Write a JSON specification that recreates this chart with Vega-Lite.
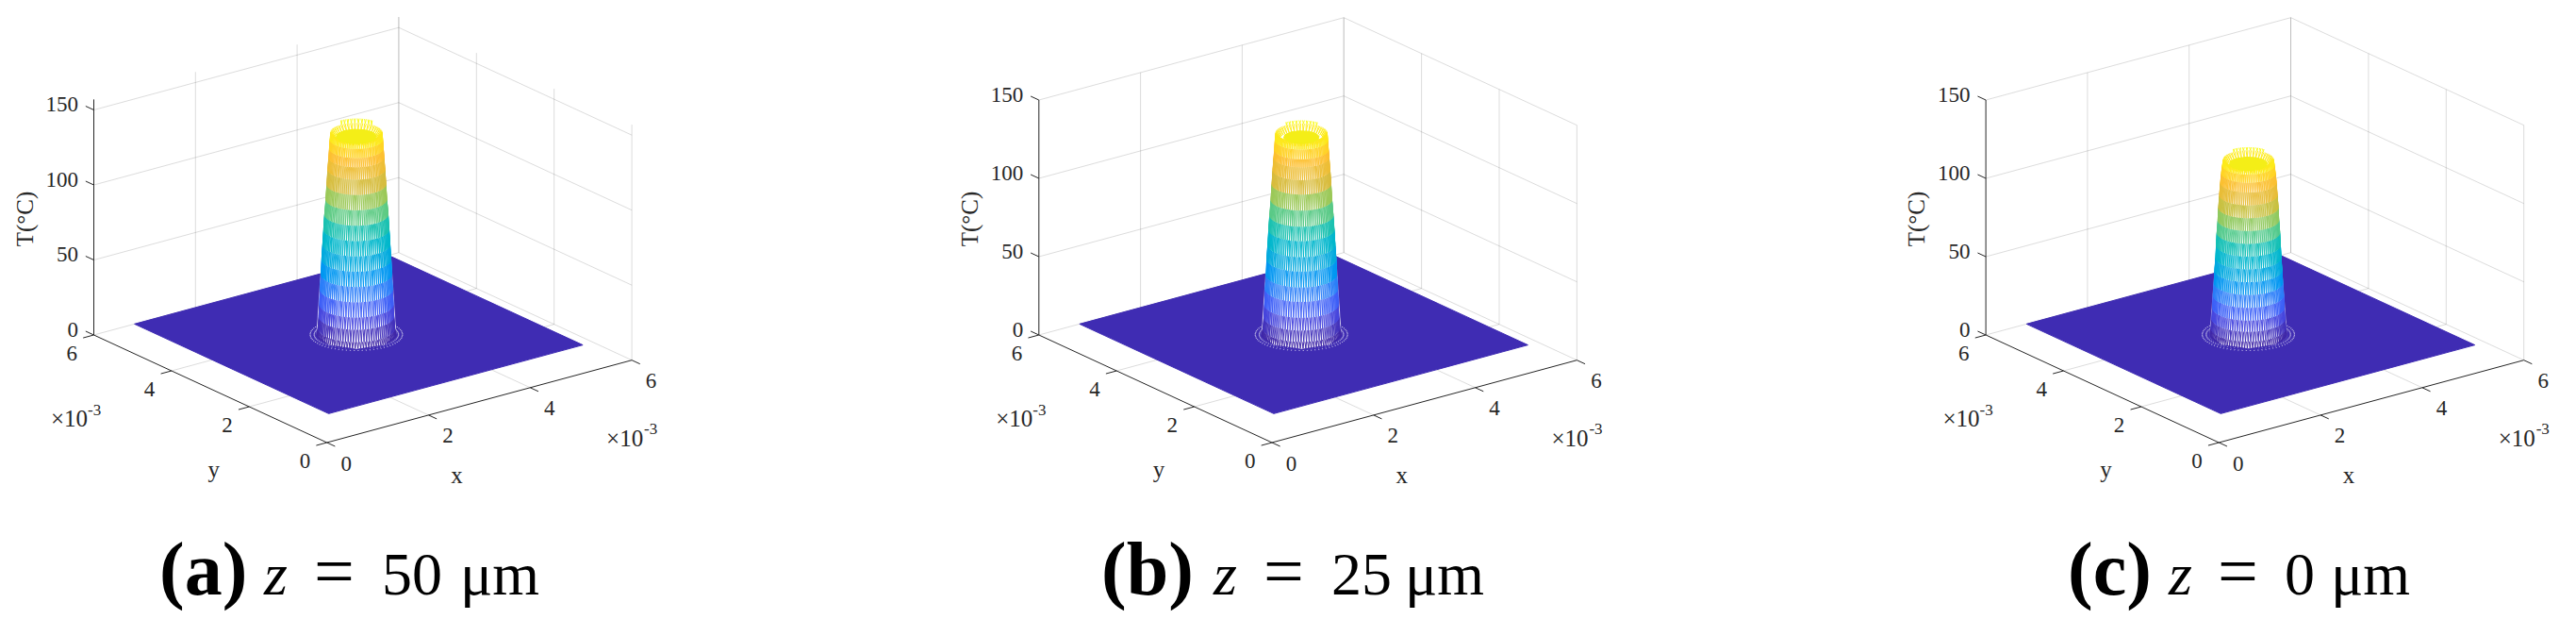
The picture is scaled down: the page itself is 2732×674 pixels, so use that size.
{
"$schema":"https://vega.github.io/schema/vega-lite/v6.json",
"width":2732,"height":674,"padding":0,
"autosize":{"type":"fit","contains":"padding"},
"background":"white",
"config":{"view":{"stroke":null}},
"datasets":{
"grid":[
{"panel":["a","b","c"],"x":0,"y":6,"T":0,"x2":6,"y2":6,"T2":[0,0,0]},
{"panel":["a","b","c"],"x":0,"y":6,"T":50,"x2":6,"y2":6,"T2":[50,50,50]},
{"panel":["a","b","c"],"x":0,"y":6,"T":100,"x2":6,"y2":6,"T2":[100,100,100]},
{"panel":["a","b","c"],"x":0,"y":6,"T":150,"x2":6,"y2":6,"T2":[150,150,150]},
{"panel":["a","b","c"],"x":6,"y":6,"T":0,"x2":6,"y2":0,"T2":[0,0,0]},
{"panel":["a","b","c"],"x":6,"y":6,"T":50,"x2":6,"y2":0,"T2":[50,50,50]},
{"panel":["a","b","c"],"x":6,"y":6,"T":100,"x2":6,"y2":0,"T2":[100,100,100]},
{"panel":["a","b","c"],"x":6,"y":6,"T":150,"x2":6,"y2":0,"T2":[150,150,150]},
{"panel":["a","b","c"],"x":0,"y":2,"T":0,"x2":6,"y2":2,"T2":[0,0,0]},
{"panel":["a","b","c"],"x":0,"y":4,"T":0,"x2":6,"y2":4,"T2":[0,0,0]},
{"panel":["a","b","c"],"x":2,"y":0,"T":0,"x2":2,"y2":6,"T2":[0,0,0]},
{"panel":["a","b","c"],"x":4,"y":0,"T":0,"x2":4,"y2":6,"T2":[0,0,0]},
{"panel":["a","b","c"],"x":2,"y":6,"T":0,"x2":2,"y2":6,"T2":[157,150,150]},
{"panel":["a","b","c"],"x":4,"y":6,"T":0,"x2":4,"y2":6,"T2":[157,150,150]},
{"panel":["a","b","c"],"x":6,"y":6,"T":0,"x2":6,"y2":6,"T2":[157,150,150]},
{"panel":["a","b","c"],"x":6,"y":6,"T":0,"x2":6,"y2":6,"T2":[157,150,150]},
{"panel":["a","b","c"],"x":6,"y":4,"T":0,"x2":6,"y2":4,"T2":[157,150,150]},
{"panel":["a","b","c"],"x":6,"y":2,"T":0,"x2":6,"y2":2,"T2":[157,150,150]},
{"panel":["a","b","c"],"x":6,"y":0,"T":0,"x2":6,"y2":0,"T2":[157,150,150]}
],
"axes":[
{"panel":["a","b","c"],"x":0,"y":6,"T":0,"x2":0,"y2":6,"T2":[157,150,150]},
{"panel":["a","b","c"],"x":0,"y":0,"T":0,"x2":0,"y2":6,"T2":[0,0,0]},
{"panel":["a","b","c"],"x":0,"y":0,"T":0,"x2":6,"y2":0,"T2":[0,0,0]},
{"panel":["a","b","c"],"x":0,"y":6,"T":0,"x2":0,"y2":6.21,"T2":[0,0,0]},
{"panel":["a","b","c"],"x":0,"y":6,"T":50,"x2":0,"y2":6.21,"T2":[50,50,50]},
{"panel":["a","b","c"],"x":0,"y":6,"T":100,"x2":0,"y2":6.21,"T2":[100,100,100]},
{"panel":["a","b","c"],"x":0,"y":6,"T":150,"x2":0,"y2":6.21,"T2":[150,150,150]},
{"panel":["a","b","c"],"x":0,"y":0,"T":0,"x2":-0.21,"y2":0,"T2":[0,0,0]},
{"panel":["a","b","c"],"x":0,"y":2,"T":0,"x2":-0.21,"y2":2,"T2":[0,0,0]},
{"panel":["a","b","c"],"x":0,"y":4,"T":0,"x2":-0.21,"y2":4,"T2":[0,0,0]},
{"panel":["a","b","c"],"x":0,"y":6,"T":0,"x2":-0.21,"y2":6,"T2":[0,0,0]},
{"panel":["a","b","c"],"x":0,"y":0,"T":0,"x2":0,"y2":-0.21,"T2":[0,0,0]},
{"panel":["a","b","c"],"x":2,"y":0,"T":0,"x2":2,"y2":-0.21,"T2":[0,0,0]},
{"panel":["a","b","c"],"x":4,"y":0,"T":0,"x2":4,"y2":-0.21,"T2":[0,0,0]},
{"panel":["a","b","c"],"x":6,"y":0,"T":0,"x2":6,"y2":-0.21,"T2":[0,0,0]}
],
"floor":[
{"panel":["a","b","c"],"x":[0.8,0.8,5.8,5.8],"y":[6,1,1,6],"T":0,"o":[1,2,3,4]}
],
"ring":[
{"panel":["a","b","c"],"r":0.73,"r2":0.6,"T":0,"T2":0,"off":0,"d":[-2.5,2.5],"ang":[0,5,10,15,20,25,30,35,40,45,50,55,60,65,70,75,80,85,90,95,100,105,110,115,120,125,130,135,140,145,150,155,160,165,170,175,180,185,190,195,200,205,210,215,220,225,230,235,240,245,250,255,260,265,270,275,280,285,290,295,300,305,310,315,320,325,330,335,340,345,350,355]}
],
"body":[
{"panel":"a","o":[1,2,3,4,5,6,7,8,9,10,11,12,13,14,15,16],"ang":[143,143,143,143,143,98,53,8,323,323,323,323,323,278,233,188],"r":[0.62,0.545,0.465,0.405,0.4,0.4,0.4,0.4,0.4,0.405,0.465,0.545,0.62,0.62,0.62,0.62],"T":[0,47,97,128,135,135,135,135,135,128,97,47,0,0,0,0]},
{"panel":"b","o":[1,2,3,4,5,6,7,8,9,10,11,12,13,14,15,16],"ang":[143,143,143,143,143,98,53,8,323,323,323,323,323,278,233,188],"r":[0.62,0.545,0.465,0.405,0.4,0.4,0.4,0.4,0.4,0.405,0.465,0.545,0.62,0.62,0.62,0.62],"T":[0,45,93,122,129,129,129,129,129,122,93,45,0,0,0,0]},
{"panel":"c","o":[1,2,3,4,5,6,7,8,9,10,11,12,13,14,15,16],"ang":[143,143,143,143,143,98,53,8,323,323,323,323,323,278,233,188],"r":[0.6,0.5,0.455,0.405,0.39,0.39,0.39,0.39,0.39,0.405,0.455,0.5,0.6,0.6,0.6,0.6],"T":[0,53,87,105,112,112,112,112,112,105,87,53,0,0,0,0]}
],
"mesh":[
{"panel":"a","Tm":135,"T":[131],"T2":[135],"r":[0.33],"r2":[0.4],"off":[0],"d":[-2,2],"ang":[0,8,16,24,32,40,48,56,64,72,80,88,96,104,112,120,128,136,144,152,160,168,176,184,192,200,208,216,224,232,240,248,256,264,272,280,288,296,304,312,320,328,336,344,352]},
{"panel":"a","Tm":135,"T":[135],"T2":[138],"r":[0.4],"r2":[0.4],"off":[0],"d":[-2,2],"ang":[16,24,32,40,48,56,64,72,80,88]},
{"panel":"b","Tm":129,"T":[125],"T2":[129],"r":[0.33],"r2":[0.4],"off":[0],"d":[-2,2],"ang":[0,8,16,24,32,40,48,56,64,72,80,88,96,104,112,120,128,136,144,152,160,168,176,184,192,200,208,216,224,232,240,248,256,264,272,280,288,296,304,312,320,328,336,344,352]},
{"panel":"b","Tm":129,"T":[129],"T2":[131],"r":[0.4],"r2":[0.4],"off":[0],"d":[-2,2],"ang":[16,24,32,40,48,56,64,72,80,88]},
{"panel":"c","Tm":112,"T":[108],"T2":[112],"r":[0.32],"r2":[0.39],"off":[0],"d":[-2,2],"ang":[0,8,16,24,32,40,48,56,64,72,80,88,96,104,112,120,128,136,144,152,160,168,176,184,192,200,208,216,224,232,240,248,256,264,272,280,288,296,304,312,320,328,336,344,352]},
{"panel":"c","Tm":112,"T":[112],"T2":[114],"r":[0.39],"r2":[0.39],"off":[0],"d":[-2,2],"ang":[16,24,32,40,48,56,64,72,80,88]},
{"panel":"a","Tm":135,"T":[0,4,12,20,30,40,50,60,70,80,90,100,110,118,124,130],"T2":[4,12,20,30,40,50,60,70,80,90,100,110,118,124,130,135],"r":[0.62,0.6,0.585,0.575,0.565,0.55,0.54,0.525,0.51,0.495,0.475,0.46,0.445,0.43,0.42,0.41],"r2":[0.6,0.585,0.575,0.565,0.55,0.54,0.525,0.51,0.495,0.475,0.46,0.445,0.43,0.42,0.41,0.4],"off":[0,1.2,0,1.2,0,1.2,0,1.2,0,1.2,0,1.2,0,1.2,0,1.2],"d":[-1.2,1.2],"ang":[143,147,151,155,159,163,167,171,175,179,183,187,191,195,199,203,207,211,215,219,223,227,231,235,239,243,247,251,255,259,263,267,271,275,279,283,287,291,295,299,303,307,311,315,319,323]},
{"panel":"b","Tm":129,"T":[0,4,11,19,29,38,48,57,67,76,86,96,105,113,118,124],"T2":[4,11,19,29,38,48,57,67,76,86,96,105,113,118,124,129],"r":[0.62,0.6,0.585,0.575,0.565,0.55,0.54,0.525,0.51,0.495,0.475,0.46,0.445,0.43,0.42,0.41],"r2":[0.6,0.585,0.575,0.565,0.55,0.54,0.525,0.51,0.495,0.475,0.46,0.445,0.43,0.42,0.41,0.4],"off":[0,1.2,0,1.2,0,1.2,0,1.2,0,1.2,0,1.2,0,1.2,0,1.2],"d":[-1.2,1.2],"ang":[143,147,151,155,159,163,167,171,175,179,183,187,191,195,199,203,207,211,215,219,223,227,231,235,239,243,247,251,255,259,263,267,271,275,279,283,287,291,295,299,303,307,311,315,319,323]},
{"panel":"c","Tm":112,"T":[0,4,10,17,25,33,41,49,57,65,73,81,89,97,103,108],"T2":[4,10,17,25,33,41,49,57,65,73,81,89,97,103,108,112],"r":[0.6,0.585,0.57,0.56,0.55,0.535,0.525,0.51,0.5,0.49,0.475,0.465,0.45,0.435,0.42,0.405],"r2":[0.585,0.57,0.56,0.55,0.535,0.525,0.51,0.5,0.49,0.475,0.465,0.45,0.435,0.42,0.405,0.39],"off":[0,1.2,0,1.2,0,1.2,0,1.2,0,1.2,0,1.2,0,1.2,0,1.2],"d":[-1.2,1.2],"ang":[143,147,151,155,159,163,167,171,175,179,183,187,191,195,199,203,207,211,215,219,223,227,231,235,239,243,247,251,255,259,263,267,271,275,279,283,287,291,295,299,303,307,311,315,319,323]}
],
"disc":[
{"panel":"a","T":132,"r":0.32,"o":[1,2,3,4,5,6,7,8,9,10,11,12],"ang":[0,30,60,90,120,150,180,210,240,270,300,330]},
{"panel":"b","T":126,"r":0.28,"o":[1,2,3,4,5,6,7,8,9,10,11,12],"ang":[0,30,60,90,120,150,180,210,240,270,300,330]},
{"panel":"c","T":109,"r":0.3,"o":[1,2,3,4,5,6,7,8,9,10,11,12],"ang":[0,30,60,90,120,150,180,210,240,270,300,330]}
],
"zlab":[
{"panel":["a","b","c"],"x":0,"y":6,"T":0,"label":"0"},
{"panel":["a","b","c"],"x":0,"y":6,"T":50,"label":"50"},
{"panel":["a","b","c"],"x":0,"y":6,"T":100,"label":"100"},
{"panel":["a","b","c"],"x":0,"y":6,"T":150,"label":"150"}
],
"ylab":[
{"panel":["a","b","c"],"x":0,"y":0,"T":0,"label":"0"},
{"panel":["a","b","c"],"x":0,"y":2,"T":0,"label":"2"},
{"panel":["a","b","c"],"x":0,"y":4,"T":0,"label":"4"},
{"panel":["a","b","c"],"x":0,"y":6,"T":0,"label":"6"}
],
"xlab":[
{"panel":["a","b","c"],"x":0,"y":0,"T":0,"label":"0"},
{"panel":["a","b","c"],"x":2,"y":0,"T":0,"label":"2"},
{"panel":["a","b","c"],"x":4,"y":0,"T":0,"label":"4"},
{"panel":["a","b","c"],"x":6,"y":0,"T":0,"label":"6"}
],
"caps":[
{"panel":"a","cap":"(a)","val":"50"},
{"panel":"b","cap":"(b)","val":"25"},
{"panel":"c","cap":"(c)","val":"0"}
]
},
"encoding":{
"x":{"field":"u","type":"quantitative","scale":{"domain":[0,2732],"nice":false,"zero":false},"axis":null},
"y":{"field":"v","type":"quantitative","scale":{"domain":[674,0],"nice":false,"zero":false},"axis":null}
},
"layer":[
{"data":{"name":"grid"},
"transform":[{"flatten":["panel","T2"]},
{"calculate":"(datum.panel=='a'?346.7:datum.panel=='b'?1349:2353.3)+53.9*datum.x-41.2*datum.y","as":"u"},
{"calculate":"469-14.55*datum.x-19*datum.y-(datum.panel=='a'?1.59:1.66)*datum.T","as":"v"},
{"calculate":"(datum.panel=='a'?346.7:datum.panel=='b'?1349:2353.3)+53.9*datum.x2-41.2*datum.y2","as":"u2"},
{"calculate":"469-14.55*datum.x2-19*datum.y2-(datum.panel=='a'?1.59:1.66)*datum.T2","as":"v2"}],
"mark":{"type":"rule","stroke":"#262626","strokeOpacity":0.16,"strokeWidth":1},
"encoding":{"x2":{"field":"u2"},"y2":{"field":"v2"}}},
{"data":{"name":"axes"},
"transform":[{"flatten":["panel","T2"]},
{"calculate":"(datum.panel=='a'?346.7:datum.panel=='b'?1349:2353.3)+53.9*datum.x-41.2*datum.y","as":"u"},
{"calculate":"469-14.55*datum.x-19*datum.y-(datum.panel=='a'?1.59:1.66)*datum.T","as":"v"},
{"calculate":"(datum.panel=='a'?346.7:datum.panel=='b'?1349:2353.3)+53.9*datum.x2-41.2*datum.y2","as":"u2"},
{"calculate":"469-14.55*datum.x2-19*datum.y2-(datum.panel=='a'?1.59:1.66)*datum.T2","as":"v2"}],
"mark":{"type":"rule","stroke":"#262626","strokeWidth":1},
"encoding":{"x2":{"field":"u2"},"y2":{"field":"v2"}}},
{"data":{"name":"floor"},
"transform":[{"flatten":["x","y","o"]},{"flatten":["panel"]},
{"calculate":"(datum.panel=='a'?346.7:datum.panel=='b'?1349:2353.3)+53.9*datum.x-41.2*datum.y","as":"u"},
{"calculate":"469-14.55*datum.x-19*datum.y-(datum.panel=='a'?1.59:1.66)*datum.T","as":"v"}],
"mark":{"type":"line","fill":"#3f2cb3","stroke":"#3f2cb3","strokeWidth":1,"interpolate":"linear-closed"},
"encoding":{"detail":{"field":"panel"},"order":{"field":"o"}}},
{"data":{"name":"ring"},
"transform":[{"flatten":["ang"]},{"flatten":["d"]},{"flatten":["panel"]},
{"calculate":"3.27+datum.r*cos((datum.ang+datum.off)*PI/180)","as":"x"},
{"calculate":"3.52+datum.r*sin((datum.ang+datum.off)*PI/180)","as":"y"},
{"calculate":"3.27+datum.r2*cos((datum.ang+datum.off+datum.d)*PI/180)","as":"x2"},
{"calculate":"3.52+datum.r2*sin((datum.ang+datum.off+datum.d)*PI/180)","as":"y2"},
{"calculate":"(datum.panel=='a'?346.7:datum.panel=='b'?1349:2353.3)+53.9*datum.x-41.2*datum.y","as":"u"},
{"calculate":"469-14.55*datum.x-19*datum.y-(datum.panel=='a'?1.59:1.66)*datum.T","as":"v"},
{"calculate":"(datum.panel=='a'?346.7:datum.panel=='b'?1349:2353.3)+53.9*datum.x2-41.2*datum.y2","as":"u2"},
{"calculate":"469-14.55*datum.x2-19*datum.y2-(datum.panel=='a'?1.59:1.66)*datum.T2","as":"v2"}],
"mark":{"type":"rule","stroke":"#ffffff","strokeWidth":0.6,"strokeDash":[1.2,3],"strokeOpacity":0.7},
"encoding":{"x2":{"field":"u2"},"y2":{"field":"v2"}}},
{"data":{"name":"body"},
"transform":[{"flatten":["o","ang","r","T"]},
{"calculate":"3.27+datum.r*cos(datum.ang*PI/180)","as":"x"},
{"calculate":"3.52+datum.r*sin(datum.ang*PI/180)","as":"y"},
{"calculate":"(datum.panel=='a'?346.7:datum.panel=='b'?1349:2353.3)+53.9*datum.x-41.2*datum.y","as":"u"},
{"calculate":"469-14.55*datum.x-19*datum.y-(datum.panel=='a'?1.59:1.66)*datum.T","as":"v"}],
"mark":{"type":"line","fill":"#ffffff","stroke":"#ffffff","strokeWidth":0.5,"interpolate":"linear-closed"},
"encoding":{"detail":{"field":"panel"},"order":{"field":"o"}}},
{"data":{"name":"mesh"},
"transform":[{"flatten":["T","T2","r","r2","off"]},{"flatten":["ang"]},{"flatten":["d"]},
{"calculate":"datum.T/datum.Tm","as":"level"},
{"calculate":"3.27+datum.r*cos((datum.ang+datum.off)*PI/180)","as":"x"},
{"calculate":"3.52+datum.r*sin((datum.ang+datum.off)*PI/180)","as":"y"},
{"calculate":"3.27+datum.r2*cos((datum.ang+datum.off+datum.d)*PI/180)","as":"x2"},
{"calculate":"3.52+datum.r2*sin((datum.ang+datum.off+datum.d)*PI/180)","as":"y2"},
{"calculate":"(datum.panel=='a'?346.7:datum.panel=='b'?1349:2353.3)+53.9*datum.x-41.2*datum.y","as":"u"},
{"calculate":"469-14.55*datum.x-19*datum.y-(datum.panel=='a'?1.59:1.66)*datum.T","as":"v"},
{"calculate":"(datum.panel=='a'?346.7:datum.panel=='b'?1349:2353.3)+53.9*datum.x2-41.2*datum.y2","as":"u2"},
{"calculate":"469-14.55*datum.x2-19*datum.y2-(datum.panel=='a'?1.59:1.66)*datum.T2","as":"v2"}],
"mark":{"type":"rule","strokeWidth":0.95},
"encoding":{"x2":{"field":"u2"},"y2":{"field":"v2"},
"color":{"field":"level","type":"quantitative","legend":null,"scale":{"domain":[0,0.125,0.25,0.375,0.5,0.625,0.75,0.875,1],"range":["#3e26a8","#4653f5","#2e87f7","#0cabdc","#12beb9","#7bcb6e","#ddbb3c","#fdc02f","#f9fb15"]}}}},
{"data":{"name":"disc"},
"transform":[{"flatten":["o","ang"]},
{"calculate":"3.27+datum.r*cos(datum.ang*PI/180)","as":"x"},
{"calculate":"3.52+datum.r*sin(datum.ang*PI/180)","as":"y"},
{"calculate":"(datum.panel=='a'?346.7:datum.panel=='b'?1349:2353.3)+53.9*datum.x-41.2*datum.y","as":"u"},
{"calculate":"469-14.55*datum.x-19*datum.y-(datum.panel=='a'?1.59:1.66)*datum.T","as":"v"}],
"mark":{"type":"line","fill":"#f4ee17","stroke":"#f4ee17","strokeWidth":1,"interpolate":"linear-closed"},
"encoding":{"detail":{"field":"panel"},"order":{"field":"o"}}},
{"data":{"name":"zlab"},
"transform":[{"flatten":["panel"]},
{"calculate":"(datum.panel=='a'?346.7:datum.panel=='b'?1349:2353.3)+53.9*datum.x-41.2*datum.y","as":"u"},
{"calculate":"469-14.55*datum.x-19*datum.y-(datum.panel=='a'?1.59:1.66)*datum.T","as":"v"}],
"mark":{"type":"text","font":"Liberation Serif","fontSize":23,"fill":"#262626","align":"right","baseline":"middle","dx":-16.5,"dy":-5.5},
"encoding":{"text":{"field":"label"}}},
{"data":{"name":"ylab"},
"transform":[{"flatten":["panel"]},
{"calculate":"(datum.panel=='a'?346.7:datum.panel=='b'?1349:2353.3)+53.9*datum.x-41.2*datum.y","as":"u"},
{"calculate":"469-14.55*datum.x-19*datum.y-(datum.panel=='a'?1.59:1.66)*datum.T","as":"v"}],
"mark":{"type":"text","font":"Liberation Serif","fontSize":23,"fill":"#262626","align":"center","baseline":"middle","dx":-23.3,"dy":20},
"encoding":{"text":{"field":"label"}}},
{"data":{"name":"xlab"},
"transform":[{"flatten":["panel"]},
{"calculate":"(datum.panel=='a'?346.7:datum.panel=='b'?1349:2353.3)+53.9*datum.x-41.2*datum.y","as":"u"},
{"calculate":"469-14.55*datum.x-19*datum.y-(datum.panel=='a'?1.59:1.66)*datum.T","as":"v"}],
"mark":{"type":"text","font":"Liberation Serif","fontSize":23,"fill":"#262626","align":"center","baseline":"middle","dx":20.5,"dy":22.5},
"encoding":{"text":{"field":"label"}}},
{"data":{"name":"caps"},
"transform":[
{"calculate":"(datum.panel=='a'?346.7:datum.panel=='b'?1349:2353.3)-123.6","as":"u"},
{"calculate":"412","as":"v"}],
"mark":{"type":"text","font":"Liberation Serif","fontSize":25,"fill":"#262626","align":"center","baseline":"middle","dx":3.7,"dy":86,"text":"y"}},
{"data":{"name":"caps"},
"transform":[
{"calculate":"(datum.panel=='a'?346.7:datum.panel=='b'?1349:2353.3)+161.7","as":"u"},
{"calculate":"425.4","as":"v"}],
"mark":{"type":"text","font":"Liberation Serif","fontSize":25,"fill":"#262626","align":"center","baseline":"middle","dx":-24,"dy":78.6,"text":"x"}},
{"data":{"name":"caps"},
"transform":[
{"calculate":"datum.panel=='a'?27:datum.panel=='b'?1029:2033","as":"u"},
{"calculate":"232","as":"v"}],
"mark":{"type":"text","font":"Liberation Serif","fontSize":25,"fill":"#262626","align":"center","baseline":"middle","angle":270,"text":"T(°C)"}},
{"data":{"name":"caps"},
"transform":[
{"calculate":"(datum.panel=='a'?346.7:datum.panel=='b'?1349:2353.3)+323.4","as":"u"},
{"calculate":"381.7","as":"v"}],
"mark":{"type":"text","font":"Liberation Serif","fontSize":25,"fill":"#262626","align":"left","baseline":"middle","dx":-27,"dy":83,"text":"×10"}},
{"data":{"name":"caps"},
"transform":[
{"calculate":"(datum.panel=='a'?346.7:datum.panel=='b'?1349:2353.3)+323.4","as":"u"},
{"calculate":"381.7","as":"v"}],
"mark":{"type":"text","font":"Liberation Serif","fontSize":17,"fill":"#262626","align":"left","baseline":"middle","dx":13,"dy":73,"text":"-3"}},
{"data":{"name":"caps"},
"transform":[
{"calculate":"(datum.panel=='a'?346.7:datum.panel=='b'?1349:2353.3)-247.2","as":"u"},
{"calculate":"355","as":"v"}],
"mark":{"type":"text","font":"Liberation Serif","fontSize":25,"fill":"#262626","align":"right","baseline":"middle","dx":-6.5,"dy":88.5,"text":"×10"}},
{"data":{"name":"caps"},
"transform":[
{"calculate":"(datum.panel=='a'?346.7:datum.panel=='b'?1349:2353.3)-247.2","as":"u"},
{"calculate":"355","as":"v"}],
"mark":{"type":"text","font":"Liberation Serif","fontSize":17,"fill":"#262626","align":"left","baseline":"middle","dx":-6.5,"dy":80,"text":"-3"}},
{"data":{"name":"caps"},
"transform":[
{"calculate":"datum.panel=='a'?169:datum.panel=='b'?1168:2193","as":"u"},
{"calculate":"630","as":"v"}],
"mark":{"type":"text","font":"Liberation Serif","fontSize":80,"fontWeight":"bold","fill":"#000000","align":"left","baseline":"alphabetic"},
"encoding":{"text":{"field":"cap"}}},
{"data":{"name":"caps"},
"transform":[
{"calculate":"datum.panel=='a'?280:datum.panel=='b'?1287:2300","as":"u"},
{"calculate":"630","as":"v"}],
"mark":{"type":"text","font":"Liberation Serif","fontSize":64,"fontStyle":"italic","fill":"#000000","align":"left","baseline":"alphabetic","text":"z"}},
{"data":{"name":"caps"},
"transform":[
{"calculate":"datum.panel=='a'?333:datum.panel=='b'?1340:2352","as":"u"},
{"calculate":"631","as":"v"}],
"mark":{"type":"text","font":"Liberation Serif","fontSize":76,"fill":"#000000","align":"left","baseline":"alphabetic","text":"="}},
{"data":{"name":"caps"},
"transform":[
{"calculate":"datum.panel=='a'?405:datum.panel=='b'?1412:2423","as":"u"},
{"calculate":"630","as":"v"}],
"mark":{"type":"text","font":"Liberation Serif","fontSize":64,"fill":"#000000","align":"left","baseline":"alphabetic"},
"encoding":{"text":{"field":"val"}}},
{"data":{"name":"caps"},
"transform":[
{"calculate":"datum.panel=='a'?488:datum.panel=='b'?1490:2472","as":"u"},
{"calculate":"630","as":"v"}],
"mark":{"type":"text","font":"Liberation Serif","fontSize":64,"fill":"#000000","align":"left","baseline":"alphabetic","text":"μm"}}
]
}
